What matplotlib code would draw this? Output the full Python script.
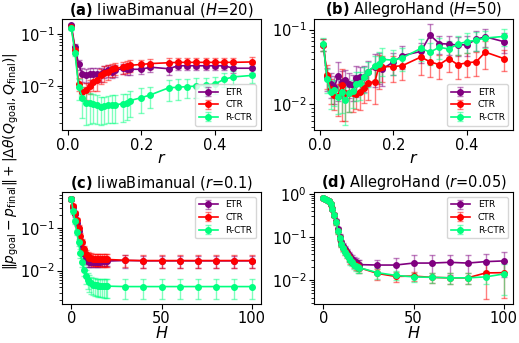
import matplotlib
matplotlib.use("Agg")
from matplotlib import pyplot as plt

# ---- data ----
r_vals = [0.01, 0.02, 0.03, 0.04, 0.05, 0.06, 0.07, 0.08, 0.09, 0.10, 0.11, 0.12, 0.13,
          0.15, 0.16, 0.17, 0.20, 0.225, 0.275, 0.30, 0.325, 0.35, 0.375, 0.40, 0.425, 0.45, 0.50]
H_vals = list(range(0, 21)) + [30, 40, 50, 60, 70, 80, 90, 100]

# (a) IiwaBimanual, H=20
a_etr = [0.145, 0.055, 0.026, 0.017, 0.0165, 0.017, 0.0168, 0.0168, 0.017, 0.019, 0.020, 0.019, 0.020,
         0.022, 0.021, 0.021, 0.021, 0.023, 0.0215, 0.0245, 0.0245, 0.0245, 0.0245, 0.0245, 0.0245, 0.022, 0.022]
a_etr_err = [0.01, 0.008, 0.006, 0.005, 0.005, 0.005, 0.005, 0.005, 0.005, 0.005, 0.005, 0.005, 0.005,
             0.005, 0.005, 0.005, 0.004, 0.004, 0.005, 0.004, 0.004, 0.004, 0.004, 0.004, 0.004, 0.004, 0.004]
a_ctr = [0.135, 0.05, 0.011, 0.0078, 0.0085, 0.010, 0.012, 0.013, 0.016, 0.018, 0.019, 0.021, 0.022,
         0.023, 0.024, 0.025, 0.026, 0.027, 0.028, 0.0285, 0.0285, 0.0285, 0.0285, 0.0285, 0.0285, 0.0285, 0.029]
a_ctr_err = [0.01, 0.008, 0.003, 0.002, 0.003, 0.003, 0.004, 0.005, 0.005, 0.006, 0.006, 0.006, 0.006,
             0.006, 0.006, 0.006, 0.006, 0.006, 0.006, 0.006, 0.006, 0.006, 0.006, 0.006, 0.006, 0.006, 0.007]
a_rctr = [0.13, 0.043, 0.0095, 0.006, 0.0048, 0.0047, 0.0046, 0.0044, 0.004, 0.0041, 0.0043, 0.0044, 0.0044,
          0.0046, 0.0047, 0.0053, 0.006, 0.0068, 0.0093, 0.0095, 0.0098, 0.010, 0.0105, 0.011, 0.0135, 0.015, 0.016]
a_rctr_err = [0.01, 0.006, 0.004, 0.0035, 0.003, 0.0028, 0.0026, 0.0025, 0.0022, 0.0022, 0.0023, 0.0024, 0.0024,
              0.0025, 0.0025, 0.0027, 0.003, 0.003, 0.004, 0.004, 0.004, 0.004, 0.004, 0.004, 0.004, 0.0045, 0.0045]

# (b) AllegroHand, H=50
b_etr = [0.063, 0.023, 0.019, 0.017, 0.024, 0.020, 0.021, 0.019, 0.018, 0.0225, 0.023, 0.0235, 0.0275,
         0.032, 0.034, 0.0295, 0.037, 0.045, 0.051, 0.084, 0.065, 0.064, 0.062, 0.063, 0.074, 0.080, 0.069]
b_etr_err = [0.012, 0.008, 0.007, 0.007, 0.013, 0.008, 0.008, 0.007, 0.007, 0.01, 0.009, 0.009, 0.01,
             0.015, 0.015, 0.012, 0.012, 0.015, 0.015, 0.035, 0.018, 0.018, 0.018, 0.018, 0.022, 0.022, 0.02]
b_ctr = [0.063, 0.025, 0.016, 0.0134, 0.013, 0.018, 0.014, 0.014, 0.014, 0.0138, 0.0145, 0.0165, 0.0195,
         0.020, 0.031, 0.032, 0.032, 0.033, 0.043, 0.037, 0.034, 0.041, 0.034, 0.036, 0.037, 0.050, 0.041]
b_ctr_err = [0.012, 0.009, 0.006, 0.005, 0.006, 0.012, 0.008, 0.006, 0.006, 0.005, 0.006, 0.006, 0.008,
             0.01, 0.015, 0.012, 0.012, 0.012, 0.018, 0.014, 0.012, 0.014, 0.012, 0.013, 0.013, 0.02, 0.013]
b_rctr = [0.064, 0.022, 0.0147, 0.0155, 0.0125, 0.0147, 0.0113, 0.014, 0.015, 0.019, 0.0195, 0.023, 0.027,
          0.033, 0.035, 0.040, 0.039, 0.042, 0.056, 0.050, 0.058, 0.055, 0.064, 0.069, 0.072, 0.077, 0.081]
b_rctr_err = [0.012, 0.008, 0.006, 0.006, 0.005, 0.007, 0.006, 0.006, 0.006, 0.008, 0.008, 0.009, 0.01,
              0.012, 0.015, 0.016, 0.014, 0.014, 0.018, 0.016, 0.018, 0.016, 0.018, 0.02, 0.02, 0.02, 0.02]

# (c) IiwaBimanual, r=0.1
c_etr = [0.48, 0.32, 0.21, 0.135, 0.085, 0.05, 0.034, 0.024, 0.019, 0.017, 0.016, 0.016, 0.016, 0.016, 0.016,
         0.016, 0.016, 0.0165, 0.0165, 0.0165, 0.0168, 0.0173, 0.017, 0.017, 0.017, 0.017, 0.017, 0.017, 0.017]
c_etr_err = [0.05, 0.04, 0.03, 0.02, 0.015, 0.01, 0.008, 0.006, 0.005, 0.005, 0.004, 0.004, 0.004, 0.004, 0.004,
             0.004, 0.004, 0.004, 0.004, 0.004, 0.004, 0.0055, 0.0055, 0.0055, 0.0055, 0.0055, 0.0055, 0.0055, 0.0055]
c_ctr = [0.48, 0.33, 0.23, 0.153, 0.103, 0.066, 0.047, 0.033, 0.025, 0.022, 0.020, 0.0195, 0.019, 0.019, 0.0185,
         0.0185, 0.0185, 0.0183, 0.0183, 0.0183, 0.0183, 0.0175, 0.0172, 0.0172, 0.0172, 0.0172, 0.0172, 0.0172, 0.0172]
c_ctr_err = [0.05, 0.04, 0.03, 0.02, 0.015, 0.01, 0.008, 0.006, 0.006, 0.006, 0.006, 0.006, 0.006, 0.006, 0.006,
             0.006, 0.006, 0.006, 0.006, 0.006, 0.006, 0.0055, 0.0055, 0.0055, 0.0055, 0.0055, 0.0055, 0.0055, 0.0055]
c_rctr = [0.48, 0.25, 0.145, 0.08, 0.047, 0.026, 0.016, 0.0103, 0.0076, 0.0061, 0.0054, 0.005, 0.0047, 0.0046, 0.0045,
          0.0044, 0.0044, 0.0044, 0.0043, 0.0043, 0.0043, 0.0042, 0.0042, 0.0042, 0.0042, 0.0042, 0.0042, 0.0042, 0.0042]
c_rctr_err = [0.05, 0.03, 0.02, 0.012, 0.008, 0.006, 0.004, 0.003, 0.0028, 0.0025, 0.0023, 0.0022, 0.0021, 0.0021, 0.002,
              0.002, 0.002, 0.002, 0.002, 0.002, 0.002, 0.002, 0.002, 0.002, 0.002, 0.002, 0.002, 0.002, 0.002]

# (d) AllegroHand, r=0.05
d_etr = [0.78, 0.76, 0.72, 0.66, 0.57, 0.45, 0.32, 0.23, 0.15, 0.10, 0.075, 0.062, 0.052, 0.044, 0.038,
         0.034, 0.031, 0.028, 0.026, 0.024, 0.023, 0.0225, 0.0225, 0.025, 0.025, 0.026, 0.025, 0.027, 0.028]
d_etr_err = [0.04, 0.04, 0.04, 0.04, 0.04, 0.04, 0.03, 0.03, 0.02, 0.015, 0.012, 0.01, 0.009, 0.008, 0.007,
             0.007, 0.007, 0.006, 0.006, 0.006, 0.006, 0.007, 0.01, 0.013, 0.013, 0.013, 0.013, 0.014, 0.016]
d_ctr = [0.78, 0.76, 0.72, 0.66, 0.57, 0.45, 0.32, 0.22, 0.14, 0.095, 0.07, 0.057, 0.047, 0.04, 0.034,
         0.03, 0.027, 0.024, 0.022, 0.021, 0.0195, 0.0144, 0.0123, 0.0125, 0.0117, 0.0114, 0.0114, 0.0148, 0.015]
d_ctr_err = [0.04, 0.04, 0.04, 0.04, 0.04, 0.04, 0.03, 0.03, 0.02, 0.015, 0.012, 0.01, 0.008, 0.007, 0.006,
             0.006, 0.005, 0.005, 0.005, 0.005, 0.005, 0.004, 0.003, 0.003, 0.003, 0.003, 0.003, 0.011, 0.011]
d_rctr = [0.78, 0.76, 0.72, 0.66, 0.57, 0.45, 0.32, 0.22, 0.14, 0.095, 0.07, 0.056, 0.046, 0.039, 0.033,
          0.029, 0.026, 0.023, 0.021, 0.020, 0.0195, 0.015, 0.013, 0.012, 0.0117, 0.0114, 0.0114, 0.012, 0.014]
d_rctr_err = [0.04, 0.04, 0.04, 0.04, 0.04, 0.04, 0.03, 0.03, 0.02, 0.015, 0.012, 0.01, 0.008, 0.007, 0.006,
              0.006, 0.005, 0.005, 0.005, 0.005, 0.005, 0.004, 0.003, 0.003, 0.003, 0.003, 0.003, 0.004, 0.0095]

labels = ['ETR', 'CTR', 'R-CTR']
colors = ['purple', 'red', 'springgreen']
r_ticks = [0.0, 0.2, 0.4]
H_ticks = [0, 50, 100]

panels = [
    (r_vals, [(a_etr, a_etr_err), (a_ctr, a_ctr_err), (a_rctr, a_rctr_err)],
     r'$\bf{(a)}$ IiwaBimanual ($H$=20)', '$r$', r_ticks, 'lower right'),
    (r_vals, [(b_etr, b_etr_err), (b_ctr, b_ctr_err), (b_rctr, b_rctr_err)],
     r'$\bf{(b)}$ AllegroHand ($H$=50)', '$r$', r_ticks, 'lower right'),
    (H_vals, [(c_etr, c_etr_err), (c_ctr, c_ctr_err), (c_rctr, c_rctr_err)],
     r'$\bf{(c)}$ IiwaBimanual ($r$=0.1)', '$H$', H_ticks, 'upper right'),
    (H_vals, [(d_etr, d_etr_err), (d_ctr, d_ctr_err), (d_rctr, d_rctr_err)],
     r'$\bf{(d)}$ AllegroHand ($r$=0.05)', '$H$', H_ticks, 'upper right'),
]

fig, axes = plt.subplots(2, 2, figsize=(5.19, 3.43), dpi=100)
fig.subplots_adjust(left=0.12, right=0.988, top=0.945, bottom=0.115, wspace=0.27, hspace=0.56)

for ax, (x, series, title, xlabel, xticks, loc) in zip(axes.flat, panels):
    for (y, err), lab, col in zip(series, labels, colors):
        eb = ax.errorbar(x, y, yerr=err, color=col, marker='o', markersize=4,
                         linewidth=1.2, capsize=2, elinewidth=1, label=lab)
        for c in eb[1]:
            c.set_alpha(0.5)
        for c in eb[2]:
            c.set_alpha(0.5)
    ax.set_yscale('log')
    ax.set_xticks(xticks)
    ax.set_title(title, fontsize=10.5, pad=1.5)
    ax.set_xlabel(xlabel, fontsize=11.5, labelpad=-1)
    ax.tick_params(labelsize=10.5, pad=2)
    ax.legend(loc=loc, fontsize=6.5, handlelength=2.2, borderpad=0.4, labelspacing=0.4)

fig.text(0.004, 0.53, r'$\|p_{\rm goal} - p_{\rm final}\| + |\Delta\theta(Q_{\rm goal}, Q_{\rm final})|$',
         rotation=90, va='center', ha='left', fontsize=10)

fig.savefig('out.png', dpi=100)
